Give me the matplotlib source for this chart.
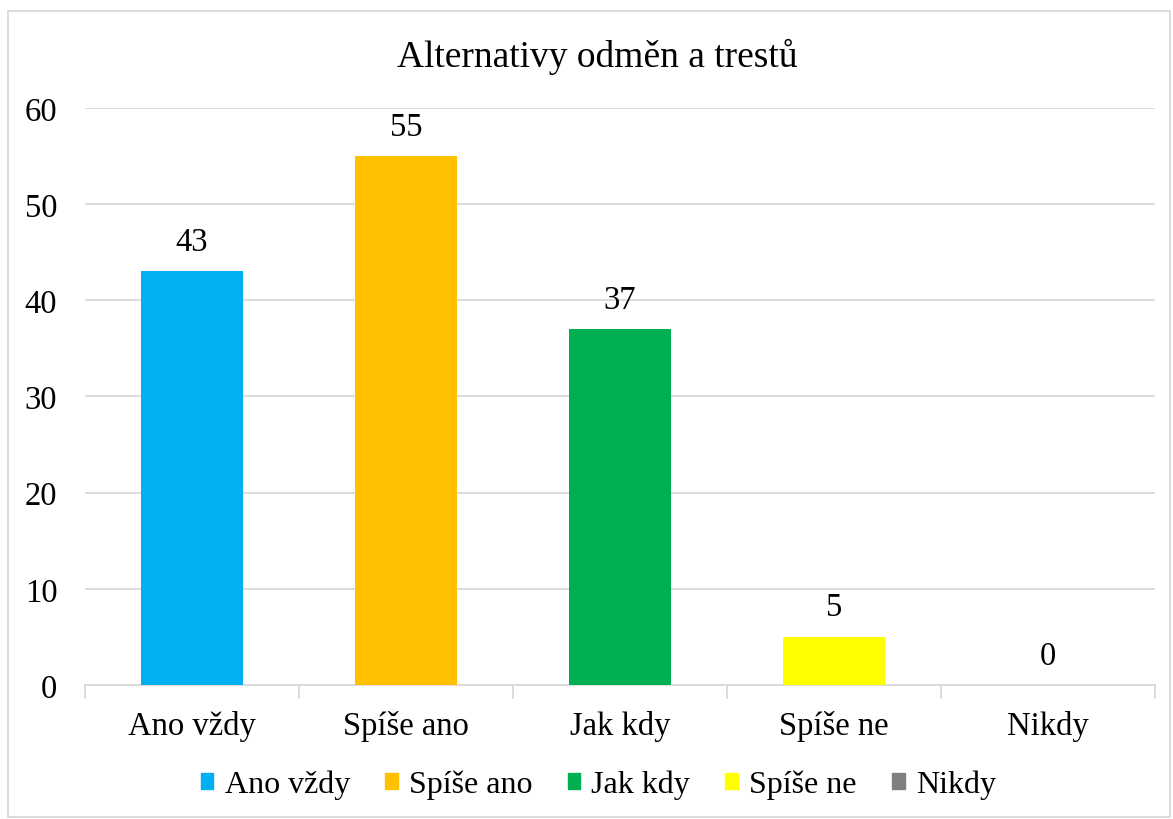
import numpy as np
import matplotlib.pyplot as plt
from matplotlib.patches import Rectangle

kategorie = ['Ano vždy', 'Spíše ano', 'Jak kdy', 'Spíše ne', 'Nikdy']
hodnoty = [43, 55, 37, 5, 0]
barvy = ['#00B0F0', '#FFC000', '#00B050', '#FFFF00', '#808080']

plt.rcParams['font.family'] = ['Liberation Serif', 'DejaVu Serif']

fig = plt.figure(figsize=(11.73, 8.2), dpi=100)
ax = fig.add_axes([0.0725, 0.1634, 0.9122, 0.7037])

x = np.arange(len(kategorie))
sloupce = ax.bar(x, hodnoty, width=0.48, color=barvy, zorder=3)

for xi, v in zip(x, hodnoty):
    ax.text(xi, v + 1.5, str(v), ha='center', va='bottom', fontsize=23.5)

ax.set_xlim(-0.5, len(kategorie) - 0.5)
ax.set_ylim(0, 60)
ax.set_yticks(np.arange(0, 61, 10))
ax.grid(axis='y', color='#D9D9D9', linewidth=1.3, zorder=0)
ax.tick_params(axis='y', length=0, labelsize=23.5, pad=20)

# popisky kategorii bez ticku, ticky na hranicich
ax.set_xticks(x)
ax.set_xticklabels(kategorie, fontsize=23.5)
ax.tick_params(axis='x', length=0, pad=18)
ax.set_xticks(np.arange(-0.5, len(kategorie)), minor=True)
ax.tick_params(axis='x', which='minor', length=10, color='#D9D9D9', width=1.3)

for s in ['top', 'right', 'left']:
    ax.spines[s].set_visible(False)
ax.spines['bottom'].set_color('#D9D9D9')
ax.spines['bottom'].set_linewidth(1.3)

fig.text(0.509, 0.93, 'Alternativy odměn a trestů', ha='center', va='center', fontsize=27)

handles = [Rectangle((0, 0), 1, 1, color=c) for c in barvy]
fig.legend(handles, kategorie, loc='center', bbox_to_anchor=(0.51, 0.042), ncol=5,
           frameon=False, fontsize=23, handlelength=0.4, handleheight=0.4,
           handletextpad=0.35, columnspacing=1.1)

fig.patches.append(Rectangle((8 / 1173, 2 / 820), 1162 / 1173, 806 / 820,
                             transform=fig.transFigure, fill=False,
                             edgecolor='#D9D9D9', linewidth=1.3))

plt.savefig('out.png', dpi=100)
